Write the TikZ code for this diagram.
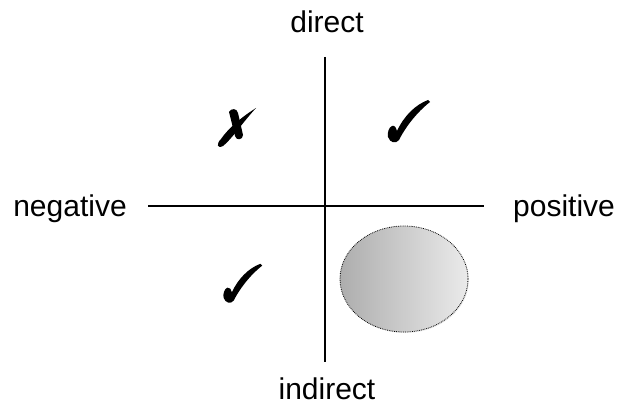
\documentclass[tikz,border=0pt]{standalone}
\usepackage{fontspec}
\setmainfont{Liberation Sans}
\usetikzlibrary{shadows,shapes.geometric}
\tikzset{
  axis/.style={line width=1.2pt, black},
  lbl/.style={font=\fontsize{30}{34}\selectfont, inner sep=0pt, anchor=base},
  blob/.style={ellipse, draw=black, densely dotted, line width=0.8pt, left color=black!32, right color=black!8, drop shadow={opacity=0.15, shadow xshift=1pt, shadow yshift=-1pt}, minimum width=128pt, minimum height=106pt, inner sep=0pt},
  checkglyph/.pic={
    \fill (22,-20)
      .. controls (8,-9) and (-3,6) .. (-9,18)
      .. controls (-12,22) and (-18,21) .. (-20,15)
      .. controls (-21,11) and (-19,5) .. (-16,4)
      .. controls (-13,3) and (-12,6) .. (-11,9)
      .. controls (-4,-6) and (7,-17) .. (20,-22) -- cycle;
  },
  crossglyph/.pic={
    \fill (20,-19)
      .. controls (4,-9) and (-9,3) .. (-15,12)
      .. controls (-20,17) and (-19,22) .. (-13,19)
      .. controls (-5,13) and (7,-5) .. (20,-19) -- cycle;
    \fill (-7,-15)
      .. controls (-5,-19) and (1,-19) .. (2,-14)
      -- (7,8)
      .. controls (7,13) and (0,14) .. (-1,9) -- cycle;
  }
}
\begin{document}
\begin{tikzpicture}[x=1pt,y=-1pt]
\useasboundingbox (0,0) rectangle (622,412);
\coordinate (top) at (325,57);
\coordinate (bot) at (325,362);
\coordinate (lft) at (148,206);
\coordinate (rgt) at (484,206);
\draw[axis] (top) -- (bot);
\draw[axis] (lft) -- (rgt);
\node[lbl] (direct) at (327,33) {direct};
\node[lbl] (indirect) at (327,399) {indirect};
\node[lbl] (negative) at (70,216) {negative};
\node[lbl] (positive) at (564,216) {positive};
\pic (cross) at (236,127) {crossglyph};
\pic (check1) at (408,122) {checkglyph};
\pic[scale=0.92] (check2) at (242,284) {checkglyph};
\node[blob] (blob) at (404,279) {};
\end{tikzpicture}
\end{document}
